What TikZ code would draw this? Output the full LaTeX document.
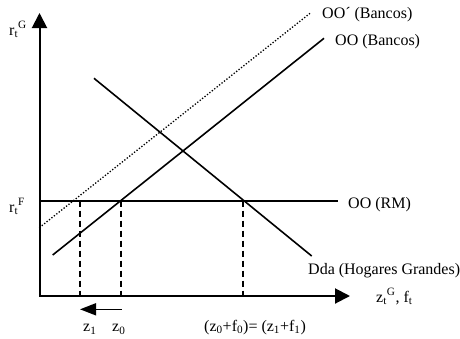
\documentclass[tikz,border=0pt]{standalone}
\usepackage{fontspec}
\setmainfont{Liberation Serif}
\usepackage{tikz}
\usetikzlibrary{arrows.meta}
\tikzset{
  % both axes, one path, big triangle heads
  axisarrow/.style={{Triangle[length=15pt,width=15pt]}-{Triangle[length=15pt,width=15pt]}, line width=2pt},
  % supply / demand lines
  mline/.style={line width=1.6pt},
  % shifted supply, dotted
  dline/.style={line width=1.3pt, dash pattern=on 1.3pt off 1.8pt},
  % guide from intersection down to axis
  guide/.style={line width=1.6pt, dash pattern=on 6pt off 4pt},
  % leftward shift arrow
  shiftarrow/.style={-{Triangle[length=16pt,width=12pt]}, line width=1.6pt},
  % text label
  lab/.style={font=\fontsize{16}{19}\selectfont, inner sep=0pt, anchor=base west},
}
\begin{document}
\begin{tikzpicture}[x=1pt,y=-1pt]
  \useasboundingbox (0,0) rectangle (460,338);
  % axes
  \coordinate (O) at (39.5,296);
  \coordinate (ytip) at (39.5,13);
  \coordinate (xtip) at (350,296);
  \draw[axisarrow] (ytip) -- (O) -- (xtip);

  % curves
  \coordinate (rm0) at (39.5,200.7);
  \coordinate (rm1) at (338,200.7);
  \coordinate (oo0) at (52.7,255);
  \coordinate (oo1) at (324,38.3);
  \coordinate (oop0) at (39.3,227.7);
  \coordinate (oop1) at (310,13.3);
  \coordinate (dd0) at (94,78.3);
  \coordinate (dd1) at (311.7,256);
  \draw[mline] (rm0) -- (rm1);
  \draw[mline] (oo0) -- (oo1);
  \draw[dline] (oop0) -- (oop1);
  \draw[mline] (dd0) -- (dd1);

  % guides
  \coordinate (g1) at (80,200.7);
  \coordinate (g1b) at (80,296);
  \coordinate (g0) at (120.7,200.7);
  \coordinate (g0b) at (120.7,296);
  \coordinate (gs) at (242.7,200.7);
  \coordinate (gsb) at (242.7,296);
  \draw[guide] (g1) -- (g1b);
  \draw[guide] (g0) -- (g0b);
  \draw[guide] (gs) -- (gsb);

  % shift arrow
  \coordinate (sh0) at (121.7,309.3);
  \coordinate (sh1) at (80,309.3);
  \draw[shiftarrow] (sh0) -- (sh1);

  % labels
  \node[lab] (lrG) at (9,35) {r\textsubscript{t}\textsuperscript{G}};
  \node[lab] (lrF) at (9,212) {r\textsubscript{t}\textsuperscript{F}};
  \node[lab] (lOOp) at (322,18) {OO´ (Bancos)};
  \node[lab] (lOO) at (335,45) {OO (Bancos)};
  \node[lab] (lRM) at (348,208.5) {OO (RM)};
  \node[lab] (lDda) at (308,274) {Dda (Hogares Grandes)};
  \node[lab] (lx) at (376,302) {z\textsubscript{t}\textsuperscript{G}, f\textsubscript{t}};
  \node[lab] (lz1) at (83,331.5) {z\textsubscript{1}};
  \node[lab] (lz0) at (112,331.5) {z\textsubscript{0}};
  \node[lab] (lsum) at (204,331) {(z\textsubscript{0}+f\textsubscript{0})= (z\textsubscript{1}+f\textsubscript{1})};
\end{tikzpicture}
\end{document}
